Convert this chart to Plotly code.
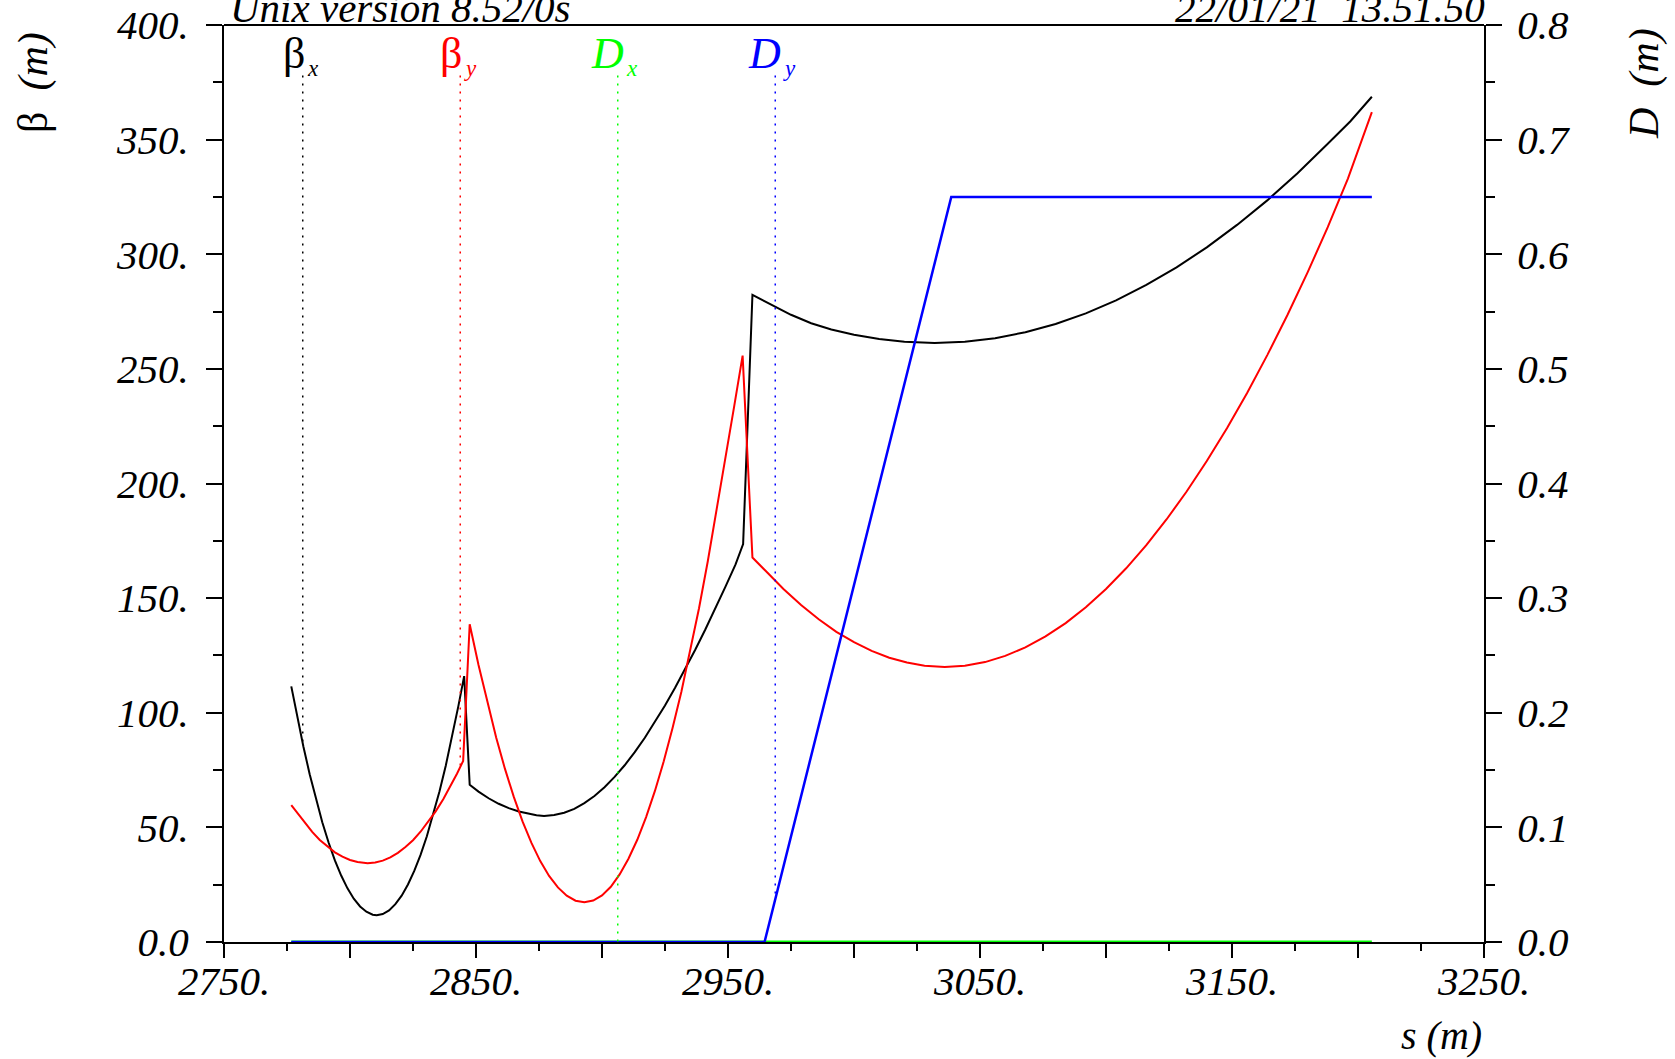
import plotly.graph_objects as go

# beta_x (black)
S_BX = [2776.7, 2779, 2781.5, 2784, 2786.5, 2789, 2791.5, 2794, 2796.5, 2799, 2801.5, 2804, 2806.5, 2809,
        2810.6, 2813, 2815.5, 2818, 2820.5, 2823, 2825.5, 2828, 2830.5, 2833, 2835.5, 2838, 2840.5, 2843, 2845.3,
        2847.5, 2851, 2855, 2859, 2863, 2867, 2871, 2874, 2877, 2881, 2885, 2889, 2893, 2897, 2901, 2905,
        2909, 2913, 2917, 2921, 2925, 2929, 2933, 2937, 2941, 2945, 2949, 2953, 2956,
        2959.7, 2967, 2975, 2983, 2991, 3000, 3010, 3020, 3032, 3044, 3056, 3068, 3080, 3092, 3104, 3116,
        3128, 3140, 3152, 3164, 3176, 3188, 3197, 3205.5]
BETA_X = [111.5, 98.5, 85.3, 73.2, 62.2, 52.2, 43.4, 35.6, 29.0, 23.4, 18.9, 15.5, 13.2, 11.9,
          11.7, 12.2, 13.8, 16.5, 20.2, 25.1, 31.0, 38.0, 46.1, 55.3, 65.6, 76.9, 89.4, 102.9, 116.0,
          68.6, 65.6, 62.7, 60.3, 58.4, 56.9, 55.9, 55.3, 55.0, 55.4, 56.4, 58.1, 60.6, 63.7, 67.5, 72.0,
          77.1, 82.8, 89.1, 95.9, 103.2, 110.9, 119.0, 127.5, 136.3, 145.5, 155.0, 164.7, 173.6,
          282.3, 278.3, 273.6, 269.9, 267.2, 264.9, 263.0, 261.8, 261.3, 261.8, 263.4, 266.0, 269.6, 274.2, 279.9, 286.6,
          294.3, 303.0, 312.8, 323.5, 335.3, 348.2, 358.0, 368.7]

# beta_y (red)
S_BY = [2776.7, 2779.5, 2782, 2785, 2788, 2791, 2794, 2797, 2800, 2803, 2807, 2810, 2813, 2816, 2819, 2822,
        2825, 2828, 2831, 2834, 2837, 2840, 2842.5, 2844.9,
        2847.5, 2851, 2854.5, 2858, 2861.5, 2865, 2868.5, 2872, 2875.5, 2879, 2882.5, 2886, 2889.5, 2893,
        2896.5, 2900, 2903.5, 2907, 2910.5, 2914, 2917.5, 2921, 2924.5, 2928, 2931.5, 2935, 2938.5, 2942,
        2945.5, 2949, 2952.5, 2955.8,
        2959.7, 2965, 2972, 2979, 2986, 2993, 3000, 3007, 3014, 3021, 3028, 3036, 3044, 3052, 3060, 3068,
        3076, 3084, 3092, 3100, 3108, 3116, 3124, 3132, 3140, 3148, 3156, 3164, 3172, 3180, 3188, 3196, 3205.5]
BETA_Y = [59.7, 55.6, 51.9, 48.0, 44.5, 41.6, 39.1, 37.2, 35.8, 34.9, 34.4, 34.7, 35.5, 36.9, 38.9, 41.4,
          44.4, 48.1, 52.3, 57.0, 62.3, 68.2, 73.5, 79.0,
          138.6, 120.8, 104.3, 89.2, 75.5, 63.3, 52.5, 43.2, 35.3, 28.8, 23.8, 20.2, 18.0, 17.3,
          18.1, 20.3, 24.1, 29.5, 36.3, 44.6, 54.5, 65.9, 78.8, 93.3, 109.2, 126.7, 145.6, 166.2,
          188.2, 211.7, 234.0, 255.8,
          167.7, 161.8, 154.0, 147.0, 140.8, 135.3, 130.8, 127.0, 124.0, 121.9, 120.5, 120.0, 120.5, 122.1, 124.8, 128.5,
          133.3, 139.1, 146.0, 154.0, 163.0, 173.1, 184.3, 196.5, 209.8, 224.1, 239.5, 256.0, 273.5, 292.1, 311.8, 333.0, 362.0]

# dispersion
S_DX = [2776.7, 3205.5]
DISP_X = [0.0, 0.0]
S_DY = [2776.7, 2964.5, 3038.6, 3205.5]
DISP_Y = [0.0, 0.0, 0.65, 0.65]

# axes
X_TICKS = [2750, 2800, 2850, 2900, 2950, 3000, 3050, 3100, 3150, 3200, 3250]
X_TICK_TEXT = ["2750.", "", "2850.", "", "2950.", "", "3050.", "", "3150.", "", "3250."]
Y_TICKS = [0, 50, 100, 150, 200, 250, 300, 350, 400]
Y_TICK_TEXT = ["0.0", "50.", "100.", "150.", "200.", "250.", "300.", "350.", "400."]
D_TICKS = [0.0, 0.1, 0.2, 0.3, 0.4, 0.5, 0.6, 0.7, 0.8]
D_TICK_TEXT = ["0.0", "0.1", "0.2", "0.3", "0.4", "0.5", "0.6", "0.7", "0.8"]

# key markers at the top of the frame
KEY_S = [2781.25, 2843.75, 2906.25, 2968.75]
KEY_NAME = ["β", "β", "D", "D"]
KEY_SUB = ["x", "y", "x", "y"]
KEY_TOP = [378.0, 378.0, 0.756, 0.756]
KEY_BOTTOM = [86.0, 76.0, 0.0, 0.032]
KEY_AXIS = ["y", "y", "y2", "y2"]
COLORS = ["#000000", "#ff0000", "#00ff00", "#0000ff"]

FONT = "Liberation Serif"
TICK_FONT = dict(family=FONT, size=41, color="black", style="italic")

fig = go.Figure()

fig.add_trace(go.Scatter(x=S_BX, y=BETA_X, mode="lines", line=dict(color=COLORS[0], width=2)))
fig.add_trace(go.Scatter(x=S_BY, y=BETA_Y, mode="lines", line=dict(color=COLORS[1], width=2)))
fig.add_trace(go.Scatter(x=S_DX, y=DISP_X, mode="lines", yaxis="y2", cliponaxis=False,
                         line=dict(color=COLORS[2], width=3)))
fig.add_trace(go.Scatter(x=S_DY, y=DISP_Y, mode="lines", yaxis="y2", cliponaxis=False,
                         line=dict(color=COLORS[3], width=2.5)))

# dotted key lines + labels
for s, name, sub, top, bottom, ax, color in zip(KEY_S, KEY_NAME, KEY_SUB, KEY_TOP, KEY_BOTTOM, KEY_AXIS, COLORS):
    fig.add_trace(
        go.Scatter(x=[s, s], y=[top, bottom], mode="lines", yaxis=ax,
                   line=dict(color=color, width=1.5, dash="2px,6px"))
    )
    is_beta = name == "β"
    fig.add_annotation(x=s, y=0.9414, xref="x", yref="paper", text=name,
                       showarrow=False, xanchor="right", yanchor="bottom", borderpad=0,
                       xshift=3 if is_beta else 7,
                       font=dict(family=FONT, size=44, color=color, style="normal" if is_beta else "italic"))
    fig.add_annotation(x=s, y=0.9383, xref="x", yref="paper", text=sub, showarrow=False,
                       xanchor="left", yanchor="bottom", borderpad=0, xshift=3 if is_beta else 7,
                       font=dict(family=FONT, size=23, color=color, style="italic"))

# header and axis titles
fig.add_annotation(x=0.003, y=0.991, xref="paper", yref="paper", text="Unix version 8.52/0s",
                   showarrow=False, xanchor="left", yanchor="bottom",
                   font=dict(family=FONT, size=41, color="black", style="italic"))
fig.add_annotation(x=1.002, y=0.991, xref="paper", yref="paper", text="22/01/21  13.51.50",
                   showarrow=False, xanchor="right", yanchor="bottom",
                   font=dict(family=FONT, size=41, color="black", style="italic"))
fig.add_annotation(x=-0.1508, y=0.9379, xref="paper", yref="paper", text="β  <i>(m)</i>",
                   showarrow=False, textangle=-90, xanchor="center", yanchor="middle",
                   font=dict(family=FONT, size=42, color="black"))
fig.add_annotation(x=1.1278, y=0.9357, xref="paper", yref="paper", text="D  (m)",
                   showarrow=False, textangle=-90, xanchor="center", yanchor="middle",
                   font=dict(family=FONT, size=42, color="black", style="italic"))
fig.add_annotation(x=1.0, y=-0.0752, xref="paper", yref="paper", text="s (m)",
                   showarrow=False, xanchor="right", yanchor="top",
                   font=dict(family=FONT, size=40, color="black", style="italic"))

# frame top edge
fig.add_shape(type="line", xref="paper", yref="paper", x0=0, x1=1, y0=1, y1=1,
              line=dict(color="black", width=2))

axis_common = dict(showline=True, linecolor="black", linewidth=2, showgrid=False, zeroline=False,
                   tickcolor="black", tickwidth=2, layer="below traces")

fig.update_layout(
    width=1675,
    height=1059,
    margin=dict(l=224, r=191, t=25, b=117, autoexpand=False),
    paper_bgcolor="white",
    plot_bgcolor="white",
    showlegend=False,
    xaxis=dict(range=[2750, 3250], tickmode="array", tickvals=X_TICKS, ticktext=X_TICK_TEXT,
               ticks="outside", ticklen=14, tickfont=TICK_FONT, ticklabelstandoff=-12,
               minor=dict(tick0=2750, dtick=25, ticks="outside", ticklen=7, tickwidth=2, tickcolor="black"),
               **axis_common),
    xaxis2=dict(range=[2750, 3250], overlaying="x", side="top", anchor="y", tickmode="array",
                tickvals=X_TICKS, ticks="inside", ticklen=13, showticklabels=False,
                minor=dict(tick0=2750, dtick=25, ticks="inside", ticklen=7, tickwidth=2, tickcolor="black"),
                **axis_common),
    yaxis=dict(range=[0, 400], tickmode="array", tickvals=Y_TICKS, ticktext=Y_TICK_TEXT,
               ticks="outside", ticklen=16, tickfont=TICK_FONT, ticklabelstandoff=9,
               minor=dict(tick0=0, dtick=25, ticks="outside", ticklen=9, tickwidth=2, tickcolor="black"),
               **axis_common),
    yaxis2=dict(range=[0, 0.8], overlaying="y", side="right", anchor="x", tickmode="array",
                tickvals=D_TICKS, ticktext=D_TICK_TEXT, ticks="outside", ticklen=16,
                tickfont=TICK_FONT, ticklabelstandoff=7,
                minor=dict(tick0=0, dtick=0.05, ticks="outside", ticklen=9, tickwidth=2, tickcolor="black"),
                **axis_common),
)

fig.write_html("out.html", config={"displayModeBar": False},
               post_script="document.body.style.margin='0';")
